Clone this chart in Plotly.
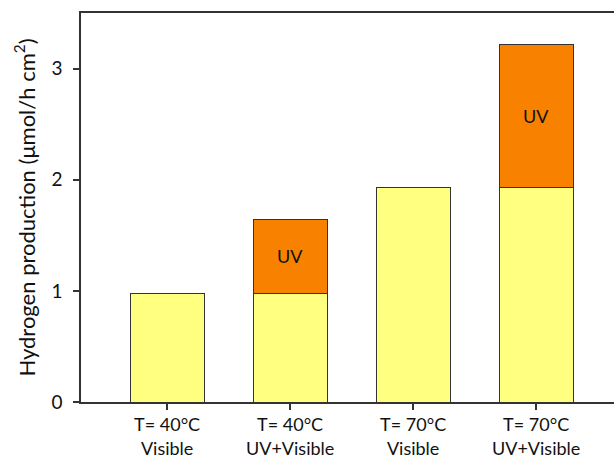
import plotly.graph_objects as go

categories = ["T= 40°C<br>Visible", "T= 40°C<br>UV+Visible", "T= 70°C<br>Visible", "T= 70°C<br>UV+Visible"]
visible = [0.98, 0.98, 1.93, 1.93]
uv = [None, 0.66, None, 1.29]
y_ticks = [0, 1, 2, 3]

font_family = "Lato, Open Sans, sans-serif"
x_pos = list(range(len(categories)))

# the UV share only exists for the UV+Visible runs
uv_x = [i for i, v in zip(x_pos, uv) if v is not None]
uv_y = [v for v in uv if v is not None]

fig = go.Figure()
fig.add_trace(go.Bar(
    x=x_pos, y=visible, width=0.6,
    marker=dict(color="#FFFF80", line=dict(color="#333333", width=1)),
    showlegend=False,
))
fig.add_trace(go.Bar(
    x=uv_x, y=uv_y, width=0.6,
    marker=dict(color="#F88200", line=dict(color="#333333", width=1)),
    text=["UV"] * len(uv_y), textposition="inside", insidetextanchor="middle", textangle=0,
    textfont=dict(size=18, color="#111111", family=font_family),
    showlegend=False,
))

fig.update_layout(
    barmode="stack",
    width=614, height=461,
    margin=dict(l=81, r=0, t=13, b=59),
    plot_bgcolor="white", paper_bgcolor="white",
    font=dict(family=font_family, size=18, color="#111111"),
    xaxis=dict(
        range=[-0.7, 3.633],
        tickvals=x_pos, ticktext=categories,
        ticks="outside", ticklen=6, tickcolor="#333333", tickwidth=1.5,
        showline=True, linecolor="#333333", linewidth=1.5, mirror=True,
        showgrid=False, zeroline=False,
        tickfont=dict(size=18),
    ),
    yaxis=dict(
        range=[0, 3.5],
        tickvals=y_ticks,
        ticks="outside", ticklen=6, tickcolor="#333333", tickwidth=1.5,
        ticklabelstandoff=7,
        showline=True, linecolor="#333333", linewidth=1.5,
        showgrid=False, zeroline=False,
        tickfont=dict(size=19),
        title=dict(text="Hydrogen production (μmol/h cm<sup>2</sup>)", font=dict(size=22), standoff=10),
    ),
)

fig.write_html("out.html")
